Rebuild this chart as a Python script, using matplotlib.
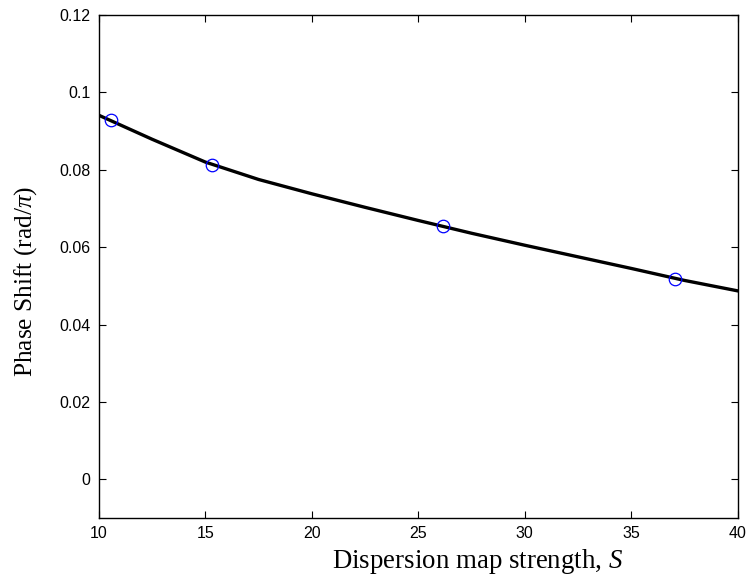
import matplotlib
matplotlib.use("Agg")
import matplotlib.pyplot as plt

# Curve values
s_curve = [10, 12.5, 15, 17.5, 20, 22.5, 25, 27.5, 30, 32.5, 35, 37.5, 40]
phase_curve = [0.0941, 0.0879, 0.0820, 0.0775, 0.0738, 0.0703, 0.0669,
               0.0636, 0.0605, 0.0575, 0.0545, 0.0514, 0.0487]

# Sampled points (blue circles)
s_pts = [10.56, 15.29, 26.16, 37.04]
phase_pts = [0.0928, 0.0813, 0.0656, 0.0517]

plt.rcParams["mathtext.fontset"] = "custom"
plt.rcParams["mathtext.rm"] = "Liberation Serif"
plt.rcParams["mathtext.it"] = "Liberation Serif:italic"

fig = plt.figure(figsize=(7.49, 5.8), dpi=100)
ax = fig.add_axes([0.132, 0.107, 0.853, 0.867])

ax.plot(s_curve, phase_curve, color="black", linewidth=2.4)
ax.plot(s_pts, phase_pts, linestyle="none", marker="o", markersize=9,
        markerfacecolor="none", markeredgecolor="blue", markeredgewidth=0.9)

ax.set_xlim(10, 40)
ax.set_ylim(-0.01, 0.12)
ax.set_xticks([10, 15, 20, 25, 30, 35, 40])
ax.set_yticks([0, 0.02, 0.04, 0.06, 0.08, 0.1, 0.12])
ax.set_yticklabels(["0", "0.02", "0.04", "0.06", "0.08", "0.1", "0.12"])

ax.tick_params(direction="in", length=5, width=0.8, top=True, right=True,
               labelsize=11.5, pad=6)
for lab in ax.get_xticklabels() + ax.get_yticklabels():
    lab.set_family("Liberation Sans")
for sp in ax.spines.values():
    sp.set_linewidth(1.0)

ax.set_xlabel("Dispersion map strength, $S$", family="Liberation Serif",
              fontsize=19.4)
ax.set_ylabel("Phase Shift (rad/$\\pi$)", family="Liberation Serif",
              fontsize=18.3)
ax.xaxis.set_label_coords(0.593, -0.058)
ax.yaxis.set_label_coords(-0.094, 0.471)

fig.savefig("out.png", dpi=100)
